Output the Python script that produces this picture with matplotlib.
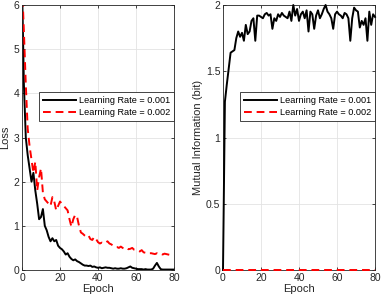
import numpy as np
import matplotlib
matplotlib.use('Agg')
import matplotlib.pyplot as plt

plt.rcParams['font.family'] = ['Liberation Sans', 'DejaVu Sans']

# Dados (uma amostra por epoca, 0..80)
epochs = list(range(81))

loss_lr001 = [6.5, 4.2, 3.0, 2.6, 2.3, 2.0, 2.2, 1.8, 1.5, 1.15,
              1.2, 1.38, 1.0, 0.9, 0.75, 0.65, 0.72, 0.65, 0.68, 0.55,
              0.5, 0.47, 0.42, 0.35, 0.38, 0.3, 0.25, 0.22, 0.24, 0.2,
              0.18, 0.15, 0.12, 0.1, 0.1, 0.09, 0.1, 0.07, 0.08, 0.06,
              0.05, 0.06, 0.04, 0.05, 0.06, 0.05, 0.05, 0.04, 0.03, 0.04,
              0.03, 0.03, 0.04, 0.03, 0.03, 0.04, 0.06, 0.08, 0.05, 0.04,
              0.03, 0.02, 0.02, 0.02, 0.01, 0.02, 0.01, 0.01, 0.01, 0.03,
              0.1, 0.16, 0.08, 0.02, 0.01, 0.01, 0.01, 0.01, 0.01, 0.01,
              0.01]

loss_lr002 = [6.5, 5.4, 4.2, 3.2, 2.8, 2.5, 2.2, 2.45, 1.8, 2.1,
              2.3, 1.75, 1.6, 1.55, 1.5, 1.45, 1.65, 1.55, 1.35, 1.45,
              1.55, 1.5, 1.45, 1.4, 1.35, 1.15, 0.98, 1.15, 1.25, 1.2,
              1.0, 0.85, 0.82, 0.78, 0.75, 0.78, 0.7, 0.68, 0.75, 0.7,
              0.63, 0.6, 0.62, 0.6, 0.62, 0.65, 0.6, 0.58, 0.55, 0.52,
              0.52, 0.5, 0.53, 0.5, 0.48, 0.5, 0.47, 0.48, 0.5, 0.46,
              0.45, 0.44, 0.42, 0.45, 0.4, 0.39, 0.4, 0.38, 0.38, 0.37,
              0.36, 0.38, 0.36, 0.37, 0.35, 0.37, 0.36, 0.35, 0.34, 0.33,
              0.34]

mi_lr001 = [0.0, 1.27, 1.4, 1.52, 1.64, 1.65, 1.66, 1.75, 1.8, 1.76,
            1.79, 1.73, 1.85, 1.78, 1.8, 1.88, 1.9, 1.73, 1.92, 1.92,
            1.91, 1.9, 1.93, 1.94, 1.92, 1.93, 1.82, 1.9, 1.88, 1.93,
            1.91, 1.94, 1.92, 1.91, 1.9, 1.95, 1.88, 2.0, 1.92, 1.97,
            1.88, 1.93, 1.95, 1.9, 1.96, 1.8, 1.95, 1.93, 1.82, 1.92,
            1.96, 1.9, 1.93, 1.97, 2.0, 1.95, 1.93, 1.9, 1.82, 1.93,
            1.95, 1.93, 1.92, 1.9, 1.94, 1.93, 1.9, 1.73, 1.9, 1.98,
            1.96, 1.95, 1.83, 1.88, 1.85, 1.9, 1.73, 1.95, 1.85, 1.93,
            1.91]

mi_lr002 = [0.0] * 81

labels = ['Learning Rate = 0.001', 'Learning Rate = 0.002']

fig = plt.figure(figsize=(3.82, 3.0), dpi=100)
ax1 = fig.add_axes([22 / 382, 30 / 300, 152 / 382, 265 / 300])
ax2 = fig.add_axes([223 / 382, 30 / 300, 152 / 382, 265 / 300])

cor_eixo = '#262626'


def estilo(ax, ylim, yticks, yticklabels):
    ax.set_xlim(0, 80)
    ax.set_ylim(*ylim)
    ax.set_xticks([0, 20, 40, 60, 80])
    ax.set_yticks(yticks)
    ax.set_yticklabels(yticklabels)
    ax.grid(True, color='#e3e3e3', linewidth=0.6)
    ax.set_axisbelow(True)
    ax.tick_params(direction='in', length=2.5, width=0.6, labelsize=7.5,
                   colors=cor_eixo, top=True, right=True, pad=2)
    for s in ax.spines.values():
        s.set_color(cor_eixo)
        s.set_linewidth(0.6)
    ax.set_xlabel('Epoch', fontsize=8, color=cor_eixo, labelpad=1)


ax1.plot(epochs, loss_lr001, color='black', linewidth=1.4, label=labels[0])
ax1.plot(epochs, loss_lr002, color='#ff0000', linewidth=1.4,
         linestyle=(0, (4, 2.5)), label=labels[1])
estilo(ax1, (0, 6), [0, 1, 2, 3, 4, 5, 6], ['0', '1', '2', '3', '4', '5', '6'])
ax1.set_ylabel('Loss', fontsize=8, color=cor_eixo, labelpad=2)

ax2.plot(epochs, mi_lr001, color='black', linewidth=1.4, label=labels[0],
         clip_on=False, zorder=3)
ax2.plot(epochs, mi_lr002, color='#ff0000', linewidth=1.4,
         linestyle=(0, (4, 2.5)), label=labels[1], clip_on=False, zorder=4)
estilo(ax2, (0, 2), [0, 0.5, 1, 1.5, 2], ['0', '0.5', '1', '1.5', '2'])
ax2.set_ylabel('Mutual Information (bit)', fontsize=8, color=cor_eixo, labelpad=2)

for ax in (ax1, ax2):
    leg = ax.legend(loc='upper right', bbox_to_anchor=(1.0, 0.672),
                    fontsize=6.6, fancybox=False, framealpha=1,
                    edgecolor=cor_eixo, handlelength=3.6, borderpad=0.45,
                    labelspacing=0.3, handletextpad=0.3, borderaxespad=0)
    leg.get_frame().set_linewidth(0.6)
    leg.set_zorder(5)

fig.savefig('out.png', dpi=100)
